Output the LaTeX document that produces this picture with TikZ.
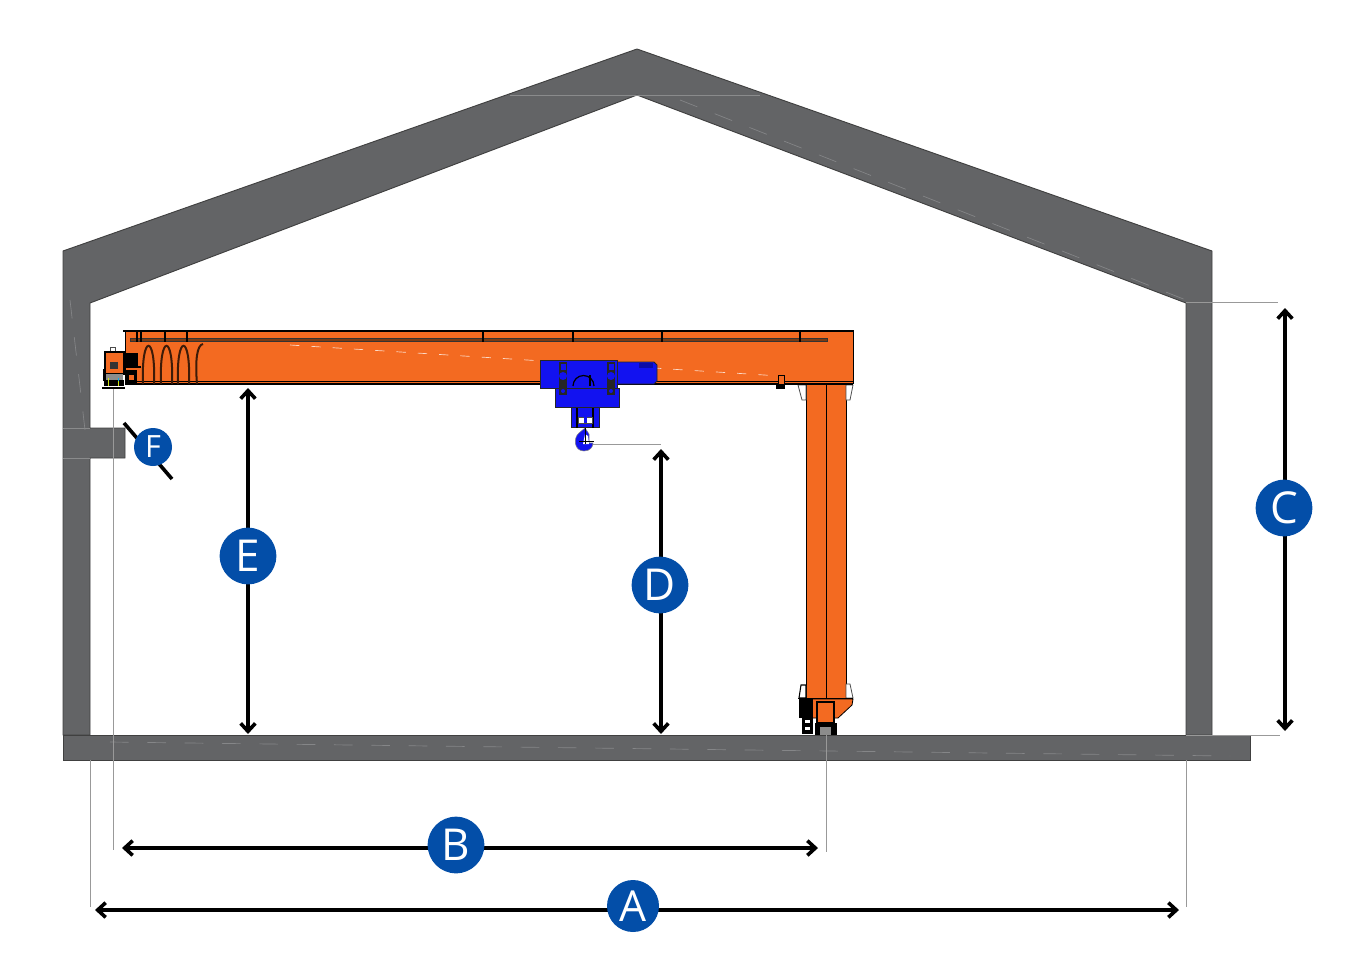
\documentclass[tikz,border=0pt]{standalone}
\usepackage{fontspec}
\setmainfont{Open Sans}
\usetikzlibrary{arrows.meta}
\definecolor{wallgray}{HTML}{636466}
\definecolor{craneorange}{HTML}{F36A21}
\definecolor{hoistblue}{HTML}{1212F0}
\definecolor{tagblue}{HTML}{034EA8}
\definecolor{railbrown}{HTML}{7A3A12}
\tikzset{
  wall/.style={fill=wallgray, draw=black!75, line width=0.7pt},
  seam/.style={white!22!wallgray, line width=0.5pt, dash pattern=on 14pt off 14pt},
  leader/.style={black!40, line width=0.6pt},
  dimline/.style={{Straight Barb[length=6pt,width=11pt]}-{Straight Barb[length=6pt,width=11pt]}, line width=2.7pt},
  tag/.style={circle, fill=tagblue, text=white, inner sep=0pt, minimum size=#1},
  steel/.style={fill=craneorange, draw=black, line width=0.6pt},
  hoist/.style={fill=hoistblue, draw=black!85, line width=0.7pt}
}
\begin{document}
\begin{tikzpicture}[x=0.75pt, y=-0.75pt]
  \useasboundingbox (0,0) rectangle (1367,968);

  % building
  \fill[wall] (63,251) -- (637,49) -- (1212,251) -- (1212,735) -- (1186,735) -- (1186,303) -- (637,95)
      -- (90,303) -- (90,428) -- (125,428) -- (125,458) -- (90,458) -- (90,735) -- (63,735) -- cycle;
  \fill[wall] (63,735) rectangle (1250,760);
  \draw[white!25!wallgray, line width=0.5pt] (63,428) -- (90,428) (63,458) -- (90,458);
  \draw[white!25!wallgray, line width=0.5pt] (510,95) -- (760,95);
  \draw[seam] (70,300) -- (85,430);
  \draw[seam] (680,100) -- (1186,300);
  \draw[seam] (110,742) -- (1230,756);

  % leaders
  \coordinate (hookTip) at (592,444);
  \coordinate (dimDtop) at (661,444);
  \coordinate (eaveR) at (1186,302);
  \coordinate (eaveRend) at (1278,302);
  \coordinate (floorR) at (1186,735);
  \coordinate (floorRend) at (1280,735);
  \coordinate (wallLbot) at (90,760);
  \coordinate (wallLend) at (90,907);
  \coordinate (wallRbot) at (1186,760);
  \coordinate (wallRend) at (1186,907);
  \coordinate (truckBot) at (113,388);
  \coordinate (truckEnd) at (113,850);
  \coordinate (colBot) at (826,735);
  \coordinate (colEnd) at (826,852);
  \draw[leader] (hookTip) -- (dimDtop);
  \draw[leader] (eaveR) -- (eaveRend);
  \draw[leader] (floorR) -- (floorRend);
  \draw[leader] (wallLbot) -- (wallLend);
  \draw[leader] (wallRbot) -- (wallRend);
  \draw[leader] (truckBot) -- (truckEnd);
  \draw[leader] (colBot) -- (colEnd);

  % column
  \fill[steel] (806,384) rectangle (846,700);
  \draw[black, line width=0.6pt] (826,384) -- (826,700);
  \fill[white, draw=black!70, line width=0.6pt] (798,385) -- (806,385) -- (806,400) -- (802,400) -- cycle;
  \fill[white, draw=black!70, line width=0.6pt] (846,385) -- (853,385) -- (850,400) -- (846,400) -- cycle;
  \fill[white, draw=black, line width=0.8pt] (801,685) -- (806,685) -- (806,698) -- (799,698) -- cycle;
  \fill[white, draw=black!70, line width=0.6pt] (846,684) -- (850,684) -- (853,698) -- (846,698) -- cycle;
  \fill[steel] (806,699) -- (853,699) -- (852,705) -- (838,718) -- (806,718) -- cycle;
  \draw[black, line width=1.4pt] (798,698.5) -- (853,698.5);
  \fill[black] (799,699) rectangle (813,718);
  \fill[black] (802,718) rectangle (813,734);
  \fill[white] (805,720) rectangle (810,723);
  \fill[white] (805,727) rectangle (810,730);
  \fill[black] (815,723) rectangle (837,735);
  \fill[black!45] (820,727) rectangle (831,735);
  \fill[steel, line width=1.1pt] (817,702) rectangle (834,723);

  % beam
  \fill[craneorange] (125,331) rectangle (853,384);
  \draw[black, line width=0.6pt] (853,331) -- (853,384);
  \draw[black, line width=1.6pt] (123,331) -- (854,331);
  \draw[black, line width=0.6pt] (125,381) -- (853,381);
  \draw[black, line width=0.8pt] (125,384) -- (853,384);
  \draw[black, line width=0.6pt] (125,331) -- (125,384);
  \fill[railbrown, draw=black!80, line width=0.4pt] (130,338.5) rectangle (827,341.5);
  \foreach \x in {137, 141, 165, 187, 483, 573, 662, 800} {
      \draw[black, line width=1.2pt] (\x,332) -- (\x,342);
  }
  \draw[white!75!craneorange, line width=0.5pt, dash pattern=on 7pt off 9pt] (290,345) -- (780,376);
  \fill[black] (776,384) rectangle (785,389);
  \draw[black, fill=craneorange, line width=0.6pt] (778,375) rectangle (784,384);

  % festoon
  \foreach \x in {143, 161, 178} {
      \draw[black!75!craneorange, line width=1.5pt] (\x,384) .. controls (\x-2,333) and (\x+13,333) .. (\x+11,384);
  }
  \draw[black!75!craneorange, line width=1.5pt] (197,384) .. controls (195,360) and (197,345) .. (203,344);

  % end truck
  \fill[white, draw=black!70, line width=0.7pt] (110,347) rectangle (115,352);
  \fill[steel, line width=1.4pt] (105,352) rectangle (124,374);
  \fill[black!80] (110,362) rectangle (118,369);
  \fill[black] (124,353) rectangle (138,367);
  \draw[black, line width=1.4pt] (124,367) -- (141,367);
  \fill[black] (126,370) rectangle (137,383);
  \fill[craneorange] (129,375) rectangle (134,380);
  \fill[black] (103,369) rectangle (106,381);
  \fill[black!45] (106,374) rectangle (123,380);
  \fill[black] (104,380) rectangle (124,386);
  \fill[yellow!80!green] (107.5,378) rectangle (109,386);
  \fill[cyan] (117.5,378) rectangle (119,381);
  \fill[yellow!80!green] (117.5,381) rectangle (119,386);
  \draw[black, line width=1.3pt] (102,388) -- (125,388);

  % hoist
  \fill[hoist] (617,362) -- (654,362) -- (657,365) -- (657,381) -- (654,384) -- (617,384) -- cycle;
  \fill[hoistblue!70!black] (639,363) rectangle (653,368);
  \fill[hoist] (555,388) rectangle (619,407);
  \fill[hoist] (540,360) rectangle (617,388);
  \fill[hoist] (571,407) rectangle (599,427);
  \foreach \x in {563, 611} {
      \fill[black!85] (\x-4,362) rectangle (\x+4,395);
      \fill[hoistblue] (\x-2.5,364) rectangle (\x+2.5,370);
      \fill[hoistblue] (\x,376) circle (4);
      \fill[hoistblue] (\x,391) circle (2);
  }
  \draw[black, line width=0.9pt] (573,386) arc (180:360:10.5);
  \draw[black, line width=0.9pt] (590,375) -- (590,386);
  \draw[black, line width=0.8pt] (577,408) -- (577,428) (593,408) -- (593,428);
  \fill[white, draw=black!70, line width=0.5pt] (578,417) rectangle (592,423);
  \fill[hoistblue] (583.5,417) rectangle (587,423);
  \fill[hoistblue, draw=black!50, line width=0.4pt] (579,433) .. controls (573,438) and (574,451) .. (584,451)
      .. controls (590,451) and (593,447) .. (593,443) -- (589,443) -- (589,434) -- (585,428) -- cycle;
  \fill[white] (585,434) -- (588,436) -- (589,444) -- (583,444) -- cycle;
  \draw[black, line width=0.7pt] (585,428) -- (585,444) (579,441) -- (594,441);

  % dimension arrows
  \coordinate (dimAl) at (95,910);
  \coordinate (dimAr) at (1179,910);
  \coordinate (dimBl) at (122,848);
  \coordinate (dimBr) at (818,848);
  \coordinate (dimCt) at (1285,308);
  \coordinate (dimCb) at (1285,731);
  \coordinate (dimDt) at (661,449);
  \coordinate (dimDb) at (661,734);
  \coordinate (dimEt) at (248,388);
  \coordinate (dimEb) at (248,734);
  \coordinate (dimFa) at (124,423);
  \coordinate (dimFb) at (172,479);
  \draw[dimline] (dimAl) -- (dimAr);
  \draw[dimline] (dimBl) -- (dimBr);
  \draw[dimline] (dimCt) -- (dimCb);
  \draw[dimline] (dimDt) -- (dimDb);
  \draw[dimline] (dimEt) -- (dimEb);
  \draw[black, line width=2.7pt] (dimFa) -- (dimFb);

  % tags
  \node[tag=39pt, font=\fontsize{32}{32}\selectfont] (tagA) at (633,906) {A};
  \node[tag=42.5pt, font=\fontsize{33}{33}\selectfont] (tagB) at (456,845) {B};
  \node[tag=42.5pt, font=\fontsize{33}{33}\selectfont] (tagC) at (1284,508) {C};
  \node[tag=42.5pt, font=\fontsize{33}{33}\selectfont] (tagD) at (660,585) {D};
  \node[tag=42.5pt, font=\fontsize{33}{33}\selectfont] (tagE) at (248,556) {E};
  \node[tag=28.5pt, font=\fontsize{23}{23}\selectfont] (tagF) at (153,447) {F};
\end{tikzpicture}
\end{document}
